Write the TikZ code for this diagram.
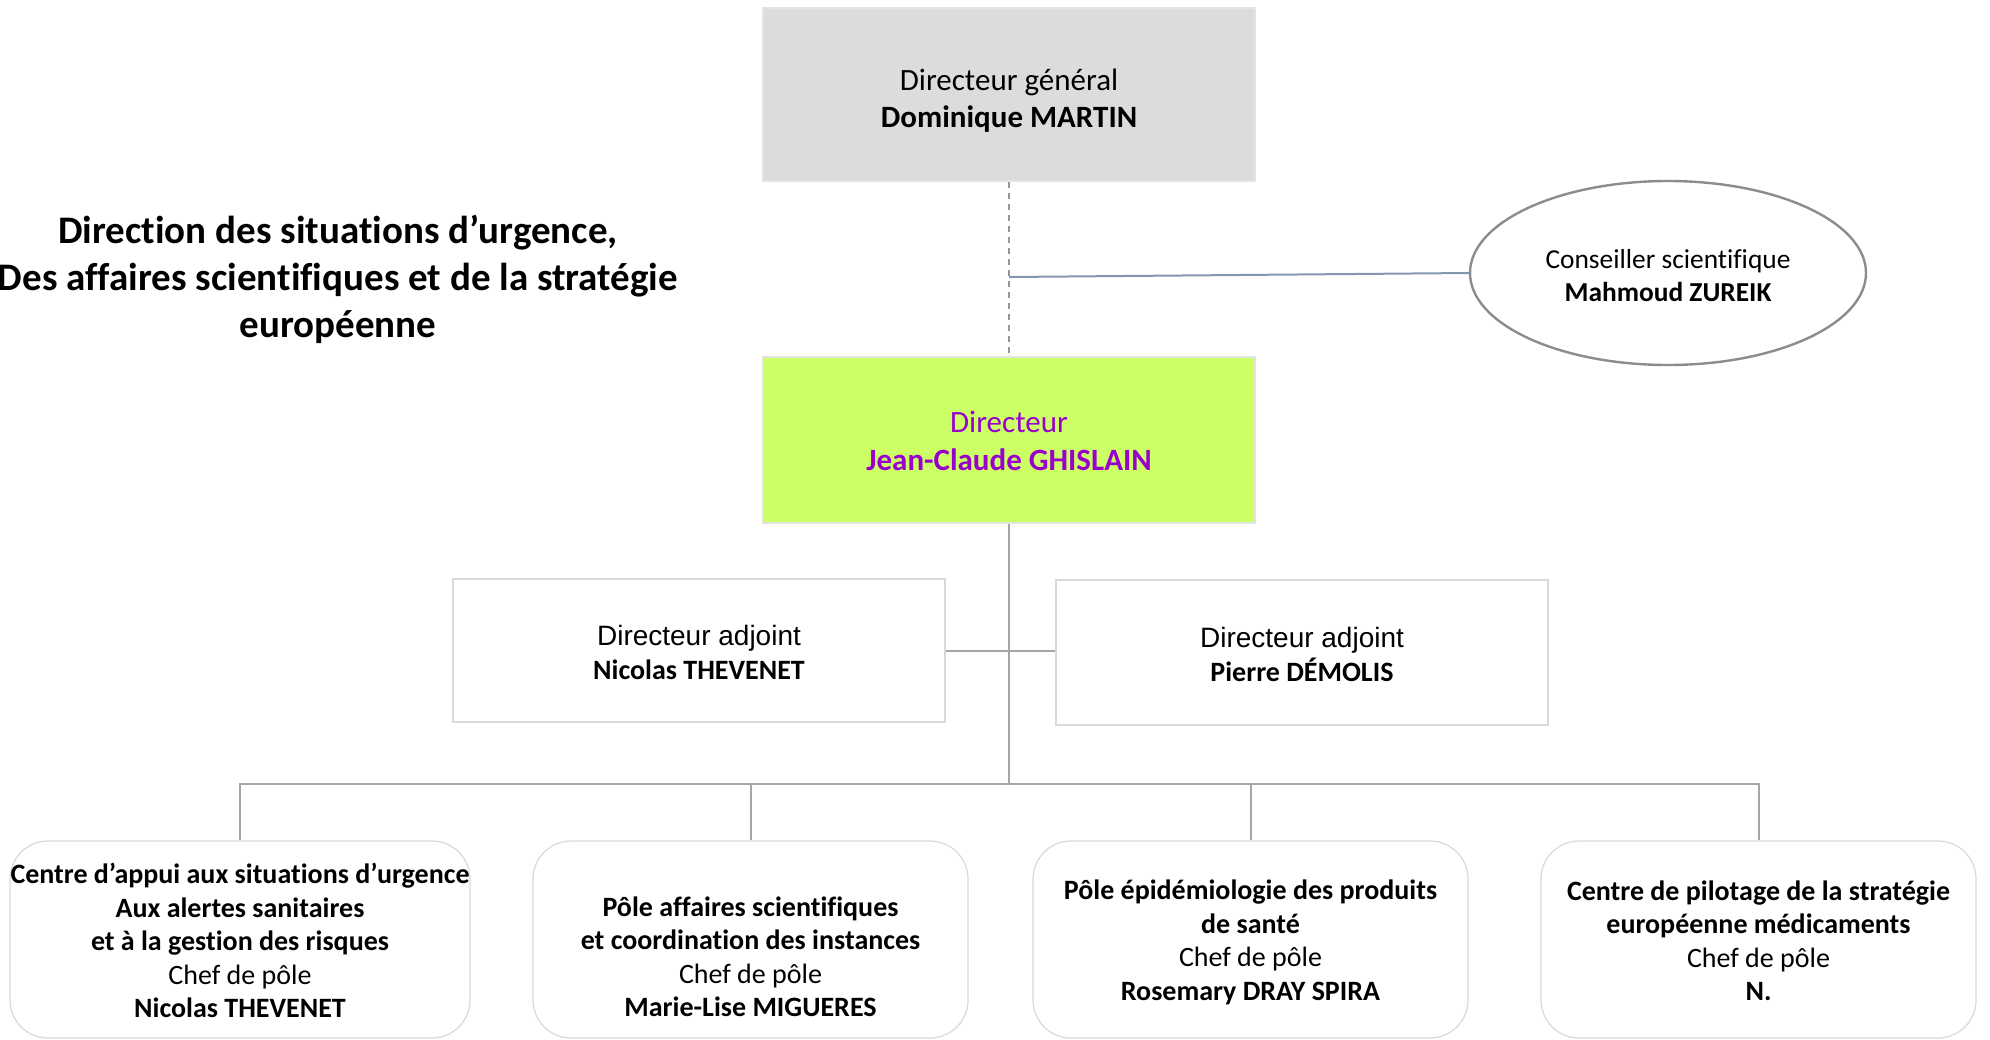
\documentclass[tikz,border=0pt]{standalone}
\usepackage{fontspec}
\setmainfont{Carlito}[Ligatures=NoCommon]
\newfontfamily\arialfont{Liberation Sans}
\usetikzlibrary{shapes.geometric}
\definecolor{boxgray}{HTML}{DCDCDC}
\definecolor{edgegray}{HTML}{E4E4E4}
\definecolor{limefill}{HTML}{CCFF66}
\definecolor{purp}{HTML}{9900CC}
\definecolor{linegray}{HTML}{A6A6A6}
\definecolor{bluegray}{HTML}{8497B0}
\definecolor{ellgray}{HTML}{8C8C8C}
\definecolor{lightedge}{HTML}{D9D9D9}
\begin{document}
\begin{tikzpicture}[x=0.5pt,y=-0.5pt,
  txt/.style={align=center, inner sep=0pt},
  topbox/.style={rectangle, draw=edgegray, line width=1.2pt, inner sep=0pt, minimum width=246pt},
  depbox/.style={rectangle, draw=lightedge, line width=0.6pt, fill=white, inner sep=0pt, minimum width=246pt},
  deptxt/.style={txt, font=\fontsize{14}{17}\selectfont},
  polebox/.style={rectangle, rounded corners=19pt, draw=lightedge, line width=0.6pt, fill=white,
     inner sep=0pt, minimum height=98.5pt},
  poletxt/.style={txt, font=\fontsize{14}{16.8}\selectfont},
  conn/.style={draw=linegray, line width=1pt},
  dashconn/.style={draw=linegray!90!black, line width=0.8pt, dash pattern=on 3pt off 2.5pt}]
\useasboundingbox (0,0) rectangle (1990,1039);

% title
\node[txt, font=\fontsize{19.5}{23.5}\selectfont\bfseries] (title) at (338,279.5)
  {Direction des situations d’urgence,\\Des affaires scientifiques et de la stratégie\\européenne};

% top boxes
\node[topbox, fill=boxgray, minimum height=86.5pt] (dg) at (1009,94.5) {};
\node[txt, font=\fontsize{15.5}{18.5}\selectfont] (dgt) at ([yshift=-3.2pt]dg.center)
  {Directeur général\\\textbf{Dominique MARTIN}};
\node[topbox, fill=limefill, minimum height=83pt] (dir) at (1009,440) {};
\node[txt, text=purp, font=\fontsize{15.5}{19}\selectfont] (dirt) at ([yshift=-0.6pt]dir.center)
  {Directeur\\\textbf{Jean-Claude GHISLAIN}};

% adviser ellipse
\node[ellipse, draw=ellgray, line width=1.2pt, fill=white, minimum width=198pt, minimum height=92pt,
  inner sep=0pt] (ell) at (1668,273) {};
\node[txt, font=\fontsize{13.7}{16.5}\selectfont] (ellt) at ([yshift=-1.3pt]ell.center)
  {Conseiller scientifique\\\textbf{Mahmoud ZUREIK}};

% deputies
\node[depbox, minimum height=71.5pt] (depL) at (699,650.5) {};
\node[deptxt] (depLt) at ([yshift=-0.8pt]depL.center)
  {{\arialfont Directeur adjoint}\\\textbf{Nicolas THEVENET}};
\node[depbox, minimum height=72.5pt] (depR) at (1302,652.5) {};
\node[deptxt] (depRt) at ([yshift=-0.8pt]depR.center)
  {{\arialfont Directeur adjoint}\\\textbf{Pierre DÉMOLIS}};

% poles
\node[polebox, minimum width=230pt] (p1) at (240,939.5) {};
\node[poletxt] (p1t) at ([yshift=-0.6pt]p1.center)
  {\textbf{Centre d’appui aux situations d’urgence}\\\textbf{Aux alertes sanitaires}\\\textbf{et à la gestion des risques}\\Chef de pôle\\\textbf{Nicolas THEVENET}};
\node[polebox, minimum width=217.5pt] (p2) at (750.5,939.5) {};
\node[poletxt] (p2t) at ([yshift=-5.1pt]p2.center)
  {\mbox{}\\\textbf{Pôle affaires scientifiques}\\\textbf{et coordination des instances}\\Chef de pôle\\\textbf{Marie-Lise MIGUERES}};
\node[polebox, minimum width=217.5pt] (p3) at (1250.5,939.5) {};
\node[poletxt] (p3t) at ([yshift=-1.5pt]p3.center)
  {\textbf{Pôle épidémiologie des produits}\\\textbf{de santé}\\Chef de pôle\\\textbf{Rosemary DRAY SPIRA}};
\node[polebox, minimum width=217.5pt] (p4) at (1758.5,939.5) {};
\node[poletxt] (p4t) at ([yshift=-0.6pt]p4.center)
  {\textbf{Centre de pilotage de la stratégie}\\\textbf{européenne médicaments}\\Chef de pôle\\\textbf{N.}};

% connectors
\coordinate (tap) at (1009,277);
\coordinate (bus) at (1009,784);
\draw[dashconn] (dg.south) -- (dir.north);
\draw[draw=bluegray, line width=1pt] (tap) -- (ell.west);
\draw[conn] (dir.south) -- (bus);
\draw[conn] (depL.east) -- (depL.east -| depR.west);
\draw[conn] (p1.north) |- (bus) -| (p4.north);
\draw[conn] (p2.north) -- (p2.north |- bus);
\draw[conn] (p3.north) -- (p3.north |- bus);
\end{tikzpicture}
\end{document}
